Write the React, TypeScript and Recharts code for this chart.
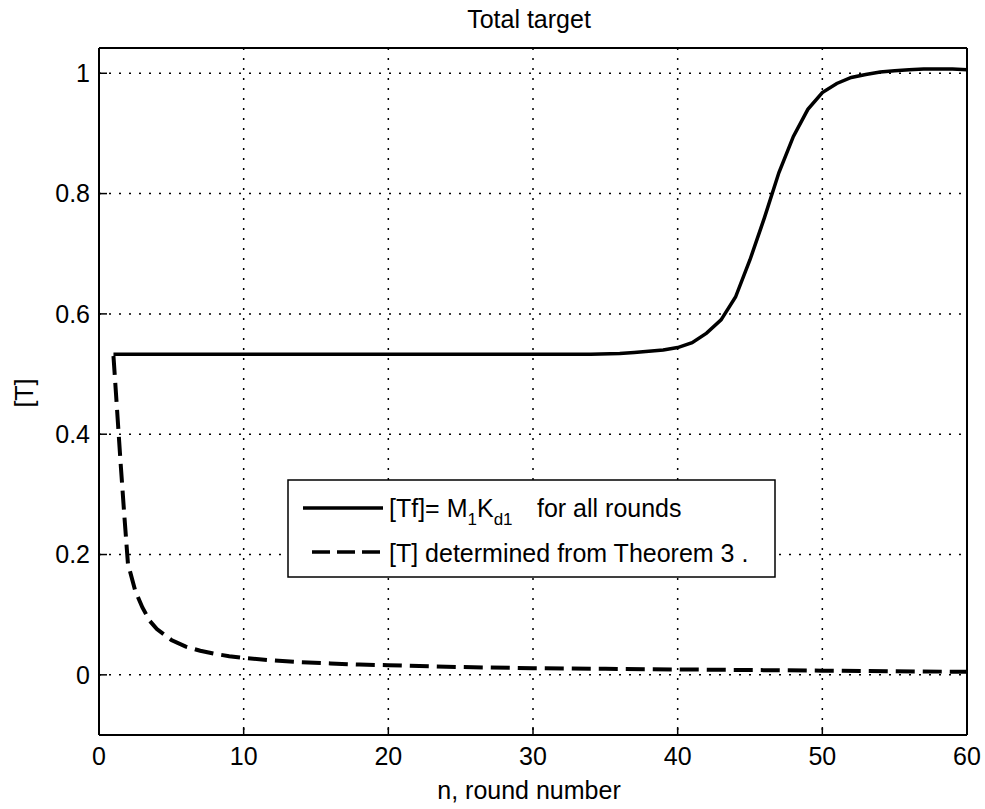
import React from 'react';
import { LineChart, Line, XAxis, YAxis, CartesianGrid, Legend } from 'recharts';

const xTicks = [0, 10, 20, 30, 40, 50, 60];
const yTicks = [0, 0.2, 0.4, 0.6, 0.8, 1];
const yTickLabels = ['0', '0.2', '0.4', '0.6', '0.8', '1'];

const solidN = [1, 10, 20, 30, 34, 36, 37, 38, 39, 40, 41, 42, 43, 44, 45, 46, 47, 48, 49, 50, 51, 52, 53, 54, 55, 56, 57, 58, 59, 60];
const solidT = [0.533, 0.533, 0.533, 0.533, 0.533, 0.534, 0.536, 0.538, 0.540, 0.544, 0.552, 0.568, 0.59, 0.628, 0.69, 0.76, 0.835, 0.895, 0.94, 0.968, 0.983, 0.993, 0.998, 1.002, 1.004, 1.006, 1.007, 1.007, 1.007, 1.006];

const dashN = [1, 1.25, 1.5, 1.75, 2, 2.5, 3, 3.5, 4, 5, 6, 7, 8, 9, 10, 12, 14, 16, 18, 20, 25, 30, 35, 40, 45, 50, 55, 60];
const dashT = [0.53, 0.44, 0.35, 0.265, 0.185, 0.14, 0.112, 0.09, 0.076, 0.058, 0.047, 0.04, 0.035, 0.031, 0.028, 0.024, 0.021, 0.019, 0.017, 0.016, 0.013, 0.011, 0.010, 0.009, 0.008, 0.007, 0.006, 0.005];

const solidData = solidN.map((n, i) => ({ n, v: solidT[i] }));
const dashData = dashN.map((n, i) => ({ n, v: dashT[i] }));

const FONT = "'Liberation Sans', Arial, Helvetica, sans-serif";
const tickStyle = { fill: '#000', fontSize: 25, fontFamily: FONT };

const LegendBox = () => (
  <svg width={985} height={809} style={{ position: 'absolute', left: 0, top: 0 }}>
    <rect x={288} y={480} width={487} height={97} fill="#fff" stroke="#000" strokeWidth={1.5} />
    <line x1={303} y1={508} x2={383} y2={508} stroke="#000" strokeWidth={3.5} />
    <line x1={312} y1={552} x2={380} y2={552} stroke="#000" strokeWidth={3.5} strokeDasharray="18 7" />
    <text x={389} y={517} fontFamily={FONT} fontSize={25} fill="#000">
      <tspan>[Tf]= M</tspan>
      <tspan dy={8} fontSize={17}>1</tspan>
      <tspan dy={-8}>K</tspan>
      <tspan dy={8} fontSize={17}>d1</tspan>
      <tspan x={537} y={517}>for all rounds</tspan>
    </text>
    <text x={389} y={562} fontFamily={FONT} fontSize={25} fill="#000">[T] determined from Theorem 3 .</text>
  </svg>
);

export default function App() {
  return (
    <div style={{ position: 'absolute', left: 0, top: 0, width: 985, height: 809, background: '#fff' }}>
      <LineChart width={985} height={809} margin={{ top: 47, right: 17, bottom: 24, left: 39 }}>
        <CartesianGrid stroke="#000" strokeWidth={1.5} strokeDasharray="2 8" verticalValues={xTicks} horizontalValues={yTicks} />
        <XAxis
          type="number"
          dataKey="n"
          domain={[0, 60]}
          ticks={xTicks}
          interval={0}
          allowDataOverflow
          height={50}
          tick={tickStyle}
          tickSize={-8}
          tickMargin={20}
          tickLine={{ stroke: '#000', strokeWidth: 1.5 }}
          axisLine={{ stroke: '#000', strokeWidth: 2 }}
        />
        <XAxis
          xAxisId="top"
          orientation="top"
          type="number"
          domain={[0, 60]}
          ticks={xTicks}
          interval={0}
          allowDataOverflow
          height={1}
          tick={false}
          tickSize={-8}
          tickLine={{ stroke: '#000', strokeWidth: 1.5 }}
          axisLine={{ stroke: '#000', strokeWidth: 2 }}
        />
        <YAxis
          type="number"
          domain={[-0.1, 1.042]}
          ticks={yTicks}
          interval={0}
          allowDataOverflow
          width={60}
          tick={tickStyle}
          tickFormatter={(v: number) => yTickLabels[yTicks.indexOf(v)] ?? ''}
          tickSize={-8}
          tickMargin={17}
          tickLine={{ stroke: '#000', strokeWidth: 1.5 }}
          axisLine={{ stroke: '#000', strokeWidth: 2 }}
        />
        <YAxis
          yAxisId="right"
          orientation="right"
          type="number"
          domain={[-0.1, 1.042]}
          ticks={yTicks}
          interval={0}
          allowDataOverflow
          width={1}
          tick={false}
          tickSize={-8}
          tickLine={{ stroke: '#000', strokeWidth: 1.5 }}
          axisLine={{ stroke: '#000', strokeWidth: 2 }}
        />
        <Line data={solidData} dataKey="v" type="linear" stroke="#000" strokeWidth={3.5} dot={false} activeDot={false} isAnimationActive={false} />
        <Line data={dashData} dataKey="v" type="linear" stroke="#000" strokeWidth={4} strokeDasharray="19 8" dot={false} activeDot={false} isAnimationActive={false} />
        <Legend
          verticalAlign="middle"
          align="center"
          content={() => <LegendBox />}
          wrapperStyle={{ position: 'absolute', left: 0, top: 0, width: 985, height: 809, pointerEvents: 'none' }}
        />
      </LineChart>
      <svg width={985} height={809} style={{ position: 'absolute', left: 0, top: 0, pointerEvents: 'none' }}>
        <text x={529} y={27.5} textAnchor="middle" fontFamily={FONT} fontSize={25} fill="#000">Total target</text>
        <text x={529} y={799} textAnchor="middle" fontFamily={FONT} fontSize={25} fill="#000">n, round number</text>
        <text x={33} y={393} textAnchor="middle" fontFamily={FONT} fontSize={25} fill="#000" transform="rotate(-90 33 393)">[T]</text>
      </svg>
    </div>
  );
}
